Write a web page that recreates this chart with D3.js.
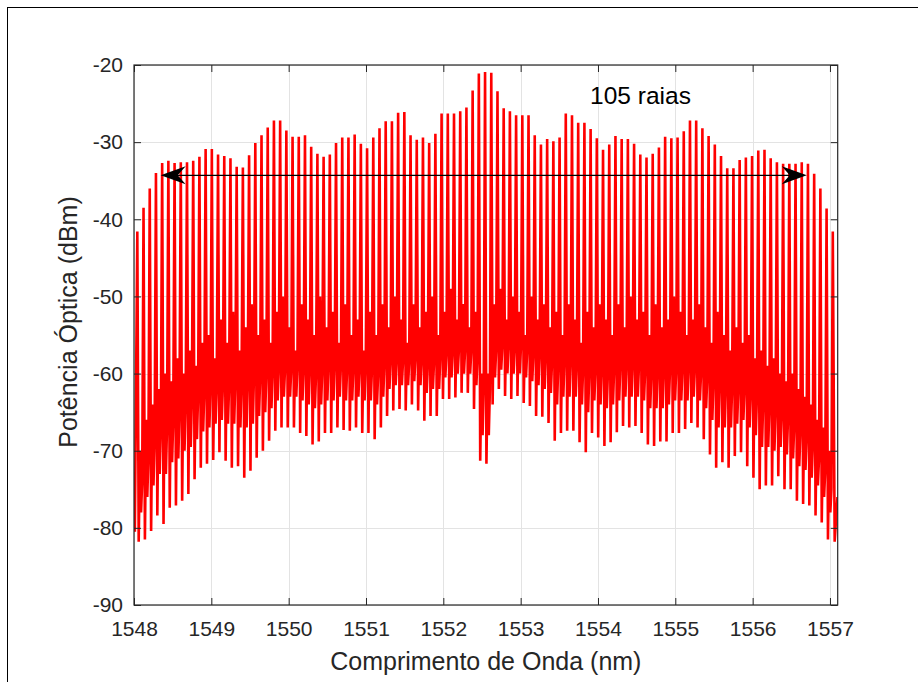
<!DOCTYPE html>
<html>
<head>
<meta charset="utf-8">
<script src="https://cdn.jsdelivr.net/npm/d3@7"></script>
<style>
    body { margin: 0; background: #fff; }
    svg { display: block; font-family: "Liberation Sans", Arial, Helvetica, sans-serif; }
</style>
</head>
<body>
<div id="graph"></div>
<script>
"use strict";

// peak power of each comb line (dBm), left to right, 10 GHz spacing
const peaks = [
    -41.6, -38.5, -36.0, -34.0, -32.7, -32.4, -32.7, -32.6, -32.6, -32.4,
    -31.9, -30.9, -30.9, -31.6, -31.8, -32.1, -33.2, -33.3, -31.7, -30.1,
    -29.1, -28.1, -27.2, -27.2, -28.5, -29.3, -29.3, -29.1, -30.6, -31.5,
    -31.9, -31.6, -30.1, -29.4, -29.4, -29.0, -30.2, -30.8,
    -29.4, -28.2, -27.3, -27.3, -26.2, -26.1, -29.1, -29.7, -29.4, -30.1,
    -28.9, -26.3, -26.3, -26.3, -26.0, -25.5, -23.3, -21.1, -20.9, -21.0,
    -23.4, -25.6, -26.0, -26.5, -26.5, -26.5, -29.1, -30.3, -29.6, -29.9,
    -29.4, -26.3, -26.5, -27.5, -27.5, -28.3, -29.5, -31.0, -30.3,
    -29.2, -29.6, -29.6, -30.2, -31.6, -32.0, -31.5, -30.7, -29.3, -29.5,
    -29.4, -28.6, -27.2, -27.2, -28.2, -29.2, -30.3, -31.8, -33.4, -33.4,
    -32.3, -32.0, -31.8, -31.1, -31.0, -32.1, -32.6, -32.8, -32.8, -32.8,
    -32.6, -32.8, -34.1, -36.0, -38.6, -41.6
];

// deepest point after each line (last value = tail after the last line)
const troughs = [
    -81.8, -81.5, -80.4, -78.4, -79.5, -77.4, -77.1, -76.5, -75.6, -73.7,
    -72.2, -71.7, -71.2, -70.2, -71.3, -72.2, -72.0, -73.5, -72.6, -70.9,
    -70.0, -68.7, -67.4, -67.0, -67.0, -67.0, -67.7, -68.1, -69.2, -68.8,
    -67.7, -67.7, -67.0, -67.3, -67.4, -67.0, -67.7,
    -67.7, -68.5, -67.0, -65.5, -64.8, -64.6, -64.8, -64.0, -64.8, -66.1,
    -65.5, -65.5, -63.3, -63.3, -63.1, -62.5, -62.5, -64.6, -71.3, -71.7,
    -64.0, -62.0, -62.9, -63.3, -62.9, -63.8, -64.2, -65.5, -65.6, -66.4,
    -68.7, -67.7, -67.4, -67.4, -68.9, -70.2, -67.7, -68.3,
    -69.4, -68.9, -67.6, -66.8, -67.0, -66.8, -67.7, -69.2, -69.4, -68.8,
    -68.8, -67.7, -67.7, -67.2, -66.4, -67.0, -68.5, -70.5, -72.2, -71.5,
    -72.2, -70.7, -70.2, -72.0, -73.5, -75.0, -74.5, -74.5, -73.3, -75.0,
    -75.0, -76.5, -76.9, -77.1, -78.4, -79.3, -81.5, -81.8
];

// small side peak between two lines
const secondary = [
    -70, -66, -64, -62, -60, -61, -58, -60, -57, -59, -56,
    -55, -58, -53, -56, -52, -57, -54, -51, -55, -53, -56, -52, -50,
    -54, -57, -51, -53, -55, -50, -54, -52, -56, -51, -55, -53, -57,
    -52, -55, -51, -54, -50, -53, -56, -51, -54, -52, -50, -55, -52,
    -49, -53, -51, -54, -52,
    -60, -60,
    -51, -49, -53, -50, -52, -55, -50, -53, -51, -54, -52, -55, -51,
    -53, -56, -52, -54, -51,
    -53, -55, -51, -54, -50, -53, -52, -55, -51, -54, -53, -50, -52,
    -55, -53, -51, -54, -56, -52, -55, -57, -54, -56, -55, -58,
    -57, -59, -58, -60, -61, -60, -62, -63, -64, -66, -67, -70
];

// second, shallower dip inside the noise band
const dips = [
    -78, -76, -74.5, -73, -73, -71.5, -71, -70, -69.5, -68.5,
    -67.5, -67, -66.5, -66, -66.5, -66.5, -67, -67, -66.5, -65.5,
    -65, -64.5, -63.5, -63, -63, -63, -63.5, -64, -64.5, -64,
    -63.5, -63.5, -63, -63.5, -63.5, -63, -63.5, -63.5, -64, -63,
    -62, -61.5, -61.5, -61.5, -61, -61.5, -62.5, -62, -62, -60.5,
    -60.5, -60, -60, -60, -61.5, -68, -68, -60.5, -59.5, -60,
    -60, -60, -60.5, -61, -61.5, -62, -62.5, -64, -63, -63,
    -63, -64, -65, -63.5, -64, -64.5, -64, -63.5, -63, -63,
    -63, -63.5, -64.5, -64.5, -64.5, -64, -63.5, -63.5, -63.5, -63,
    -63.5, -64.5, -66, -67, -67, -67, -66.5, -66, -67, -68,
    -69.5, -69.5, -70, -69.5, -70.5, -71, -72, -72.5, -73.5, -74.5,
    -76, -78
];

// top of the noise band just before the next line
const shoulder = [
    -74, -71, -69, -67.5, -67, -66, -65, -64, -63.5, -63,
    -62.5, -62, -62, -61.5, -61.5, -61, -61.5, -61, -60.5, -60.5,
    -60, -60, -59.5, -59.5, -59.5, -59, -59.5, -59.5, -60, -59.5,
    -59, -59, -59, -59.5, -59.5, -59.5, -59.5, -59.5, -60, -59,
    -58.5, -58.5, -58.5, -58.5, -58, -58.5, -59, -58.5, -58, -57.5,
    -57.5, -57, -57, -57, -58, -62, -62, -57, -56.5, -56.5,
    -57, -56.5, -57, -57.5, -57.5, -58, -58.5, -59, -58.5, -58.5,
    -59, -59.5, -60, -59.5, -59.5, -60, -59.5, -59, -59, -59,
    -59, -59.5, -60, -60, -60, -59.5, -59.5, -59.5, -59.5, -59.5,
    -60, -60.5, -61, -61.5, -62, -62, -62, -62, -62.5, -63,
    -64, -64.5, -65, -65.5, -66, -67, -67.5, -68.5, -69.5, -71,
    -72.5, -75
];

// trace before the first line
const leadIn = [-76, -80.5];

const firstLine = 1548.043;   // nm
const lineStep = 0.0803;      // nm

const xTicks = [1548, 1549, 1550, 1551, 1552, 1553, 1554, 1555, 1556, 1557];
const yTicks = [-90, -80, -70, -60, -50, -40, -30, -20];
const xDomain = [1548, 1557.1];
const yDomain = [-90, -20];

const xTitle = "Comprimento de Onda (nm)";
const yTitle = "Potência Óptica (dBm)";
const noteText = "105 raias";
const notePos = [1554.55, -25.1];
const arrowFrom = 1548.345;
const arrowTo = 1556.70;
const arrowLevel = -34.3;

(function() {
    const svgSize = {
        width : 918,
        height: 682,
    };
    const box = { left: 134, right: 837.7, top: 65, bottom: 605 };
    const ink = "#262626";

    window.addEventListener("load", init);

    function init() {
        let svg = d3.select("#graph")
                    .append("svg")
                        .attr("width", svgSize.width)
                        .attr("height", svgSize.height);

        svg.append("rect")
            .attr("width", svgSize.width)
            .attr("height", svgSize.height)
            .attr("fill", "#fff");

        // figure frame
        svg.append("rect")
            .attr("x", 7.5)
            .attr("y", 7.5)
            .attr("width", 1000)
            .attr("height", 1000)
            .attr("fill", "none")
            .attr("stroke", "#000")
            .attr("stroke-width", 1);

        let x = d3.scaleLinear().domain(xDomain).range([box.left, box.right]);
        let y = d3.scaleLinear().domain(yDomain).range([box.bottom, box.top]);

        drawGrid(svg, x, y);
        drawTrace(svg, x, y);
        drawAxes(svg, x, y);
        drawNote(svg, x, y);
    }

    function drawGrid(svg, x, y) {
        let g = svg.append("g").attr("stroke", "#e3e3e3").attr("stroke-width", 1);
        g.selectAll("line.vx")
            .data(xTicks)
            .enter()
            .append("line")
                .attr("x1", d => Math.round(x(d)) + 0.5)
                .attr("x2", d => Math.round(x(d)) + 0.5)
                .attr("y1", box.top)
                .attr("y2", box.bottom);
        g.selectAll("line.hy")
            .data(yTicks)
            .enter()
            .append("line")
                .attr("x1", box.left)
                .attr("x2", box.right)
                .attr("y1", d => Math.round(y(d)) + 0.5)
                .attr("y2", d => Math.round(y(d)) + 0.5);
    }

    function buildTrace() {
        let pts = [];
        pts.push([firstLine - 0.75 * lineStep, leadIn[0]]);
        pts.push([firstLine - 0.4 * lineStep, leadIn[1]]);
        peaks.forEach(function(p, i) {
            let lam = firstLine + i * lineStep;
            pts.push([lam, p]);
            if (i < peaks.length - 1) {
                pts.push([lam + 0.22 * lineStep, troughs[i]]);
                pts.push([lam + 0.42 * lineStep, secondary[i]]);
                pts.push([lam + 0.60 * lineStep, dips[i]]);
                pts.push([lam + 0.78 * lineStep, shoulder[i]]);
            } else {
                pts.push([lam + 0.3 * lineStep, troughs[i]]);
                pts.push([lam + 0.75 * lineStep, leadIn[0]]);
            }
        });
        return pts;
    }

    function drawTrace(svg, x, y) {
        svg.append("clipPath")
            .attr("id", "plotclip")
            .append("rect")
                .attr("x", box.left)
                .attr("y", box.top)
                .attr("width", box.right - box.left)
                .attr("height", box.bottom - box.top);

        let line = d3.line()
            .x(d => x(d[0]))
            .y(d => y(d[1]));

        svg.append("path")
            .datum(buildTrace())
            .attr("clip-path", "url(#plotclip)")
            .attr("d", line)
            .attr("fill", "none")
            .attr("stroke", "#ff0000")
            .attr("stroke-width", 2.6)
            .attr("stroke-linejoin", "miter");
    }

    function drawAxes(svg, x, y) {
        let tick = 7;
        let fmt = d => String(d);

        let bottom = d3.axisBottom(x).tickValues(xTicks).tickFormat(fmt).tickSizeInner(-tick).tickSizeOuter(0).tickPadding(16);
        let top = d3.axisTop(x).tickValues(xTicks).tickFormat("").tickSizeInner(-tick).tickSizeOuter(0);
        let left = d3.axisLeft(y).tickValues(yTicks).tickFormat(fmt).tickSizeInner(-tick).tickSizeOuter(0).tickPadding(11);
        let right = d3.axisRight(y).tickValues(yTicks).tickFormat("").tickSizeInner(-tick).tickSizeOuter(0);

        let parts = [
            [bottom, "translate(0," + box.bottom + ")"],
            [top, "translate(0," + box.top + ")"],
            [left, "translate(" + box.left + ",0)"],
            [right, "translate(" + box.right + ",0)"],
        ];
        parts.forEach(function(p) {
            let g = svg.append("g").attr("transform", p[1]).call(p[0]);
            g.select(".domain").remove();
            g.selectAll("line").attr("stroke", ink);
            g.selectAll("text")
                .attr("fill", ink)
                .style("font-size", "21px")
                .style("font-family", "'Liberation Sans', Arial, sans-serif");
        });

        svg.append("rect")
            .attr("x", box.left)
            .attr("y", box.top)
            .attr("width", box.right - box.left)
            .attr("height", box.bottom - box.top)
            .attr("fill", "none")
            .attr("stroke", ink)
            .attr("stroke-width", 1.2);

        svg.append("text")
            .attr("x", (box.left + box.right) / 2)
            .attr("y", 670)
            .attr("text-anchor", "middle")
            .attr("fill", ink)
            .style("font-size", "25px")
            .text(xTitle);

        svg.append("text")
            .attr("transform", "translate(77,322) rotate(-90)")
            .attr("text-anchor", "middle")
            .attr("fill", ink)
            .style("font-size", "25px")
            .text(yTitle);
    }

    function drawNote(svg, x, y) {
        svg.append("text")
            .attr("x", x(notePos[0]))
            .attr("y", y(notePos[1]))
            .attr("text-anchor", "middle")
            .attr("fill", "#000")
            .style("font-size", "24.5px")
            .text(noteText);

        let yl = y(arrowLevel);
        let x1 = x(arrowFrom);
        let x2 = x(arrowTo);

        svg.append("line")
            .attr("x1", x1 + 10)
            .attr("x2", x2 - 10)
            .attr("y1", yl)
            .attr("y2", yl)
            .attr("stroke", "#000")
            .attr("stroke-width", 1.3);

        let head = [[0, 0], [25, -9], [17, 0], [25, 9]];
        svg.append("path")
            .attr("d", "M" + head.map(p => (x1 + p[0]) + "," + (yl + p[1])).join("L") + "Z")
            .attr("fill", "#000");
        svg.append("path")
            .attr("d", "M" + head.map(p => (x2 - p[0]) + "," + (yl + p[1])).join("L") + "Z")
            .attr("fill", "#000");
    }

})();
</script>
</body>
</html>
